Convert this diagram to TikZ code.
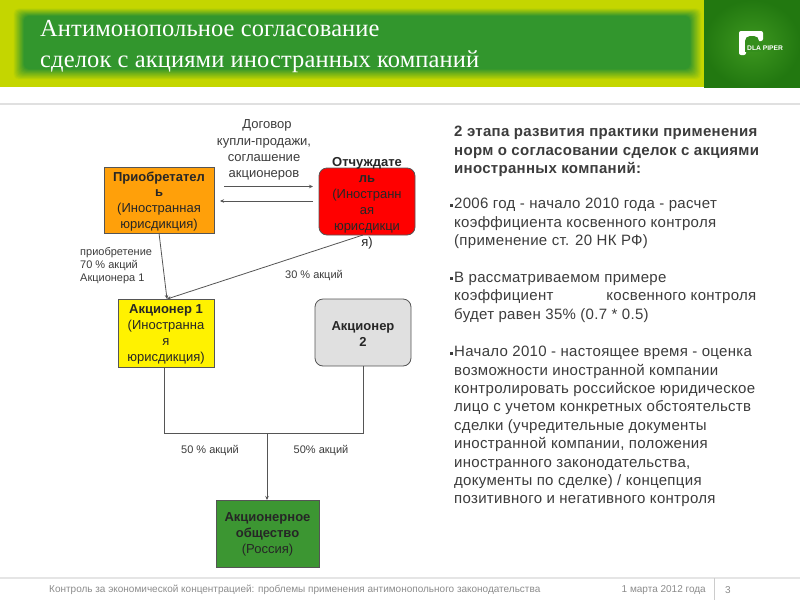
\documentclass[tikz,border=0pt]{standalone}
\usepackage{fontspec}
\setmainfont{Liberation Sans}
\newfontfamily\ttl[LetterSpace=0.5]{Liberation Serif}
\newfontfamily\bodyf[LetterSpace=2]{Liberation Sans}
\usetikzlibrary{arrows.meta,shadings}
\definecolor{hy}{RGB}{196,214,0}
\definecolor{hg}{RGB}{50,150,45}
\definecolor{linec}{RGB}{85,85,85}
\definecolor{txt}{RGB}{60,60,60}
\definecolor{pin}{RGB}{62,152,32}
\definecolor{pout}{RGB}{34,120,16}
\definecolor{pmid}{RGB}{52,142,28}
\definecolor{orangebox}{RGB}{255,160,10}
\definecolor{greenbox}{RGB}{60,150,50}
\newcommand{\fs}[1]{\fontsize{#1}{#1}\selectfont}
\tikzset{
  boxn/.style={draw=linec,line width=0.8pt,inner sep=0pt,text width=0pt},
  lbl/.style={align=center,inner sep=0pt,text=txt},
  boxt/.style={align=center,inner sep=0pt,text=black!85},
  small/.style={align=left,inner sep=0pt,text=txt},
  conn/.style={draw=linec,line width=0.8pt},
  arr/.style={conn,-{Stealth[length=4pt,width=3.5pt]}},
  para/.style={anchor=north west,inner sep=0pt,align=left,text=txt,font=\bodyf\fs{15}},
}
\begin{document}
\begin{tikzpicture}[x=1pt,y=-1pt]
\useasboundingbox (0,0) rectangle (800,600);
\fill[white] (0,0) rectangle (800,600);
% header
\fill[hy] (0,0) rectangle (704,87);
\foreach \i in {0,...,20}{
  \pgfmathsetmacro\m{\i*5}
  \fill[hg!\m!hy,rounded corners=5pt] ({13+\i*0.55},{8+\i*0.4}) rectangle ({702-\i*0.6},{80-\i*0.55});
}
\shade[inner color=pin,outer color=pout] (704,0) rectangle (800,87);
\fill[black!12] (0,103) rectangle (800,104.5);
\node[anchor=base west,inner sep=0pt,text=white] (t1) at (40,36) {\ttl\fs{24.5}Антимонопольное согласование};
\node[anchor=base west,inner sep=0pt,text=white] (t2) at (40,67.5) {\ttl\fs{24.5}сделок с акциями иностранных компаний};
% logo
\fill[white,rounded corners=2pt] (739,31) rectangle (763,41);
\fill[white] (739,33) rectangle (745,53);
\fill[white,rounded corners=2pt] (739,45) rectangle (746,55);
\fill[pmid,rounded corners=5pt] (745,36) rectangle (759,50);
\fill[pmid] (745,42) rectangle (766,52);
\node[anchor=west,inner sep=0pt,text=white] (logo) at (747,48) {\bfseries\fs{6.7}DLA PIPER};
% boxes
\node[boxn,fill=orangebox,minimum width=110pt,minimum height=66pt] (acq) at (159,200) {};
\node[boxn,fill=red,rounded corners=8pt,minimum width=96pt,minimum height=67pt] (sel) at (367,201.5) {};
\node[boxn,fill=yellow,minimum width=96pt,minimum height=68pt] (sh1) at (166,333) {};
\node[boxn,fill=black!12,rounded corners=8pt,minimum width=96pt,minimum height=67pt] (sh2) at (363,332.5) {};
\node[boxn,fill=greenbox,minimum width=103pt,minimum height=67pt] (jsc) at (267.5,533.5) {};
% box texts
\node[boxt,font=\fs{13},anchor=north] (acqt) at (159,171.5) {\textbf{Приобретател}\\[2.7pt]\textbf{ь}\\[2.7pt](Иностранная\\[2.7pt]юрисдикция)};
\node[boxt,font=\fs{13},anchor=north] (selt) at (367,157.5) {\textbf{Отчуждате}\\[3pt]\textbf{ль}\\[3pt](Иностранн\\[3pt]ая\\[3pt]юрисдикци\\[3pt]я)};
\node[boxt,font=\fs{13},anchor=north] (sh1t) at (166,304) {\textbf{Акционер 1}\\[3pt](Иностранна\\[3pt]я\\[3pt]юрисдикция)};
\node[boxt,font=\fs{13}] (sh2t) at (363,334.5) {\textbf{Акционер}\\[3pt]\textbf{2}};
\node[boxt,font=\fs{13}] (jsct) at (267.5,534) {\textbf{Акционерное}\\[3pt]\textbf{общество}\\[3pt](Россия)};
% connector helpers
\coordinate (a1) at (224,186.5);
\coordinate (a2) at (313,186.5);
\coordinate (b1) at (313,201);
\coordinate (b2) at (220,201);
\coordinate (acqb) at (159,233);
\coordinate (sh1t1) at (167,299);
\coordinate (selb) at (363,235);
\coordinate (sh1b) at (164,367);
\coordinate (sh2b) at (363,366);
\coordinate (jl) at (164,433);
\coordinate (jr) at (363,433);
\coordinate (jm) at (267,433);
\coordinate (jsctop) at (267,500);
\draw[arr] (a1) -- (a2);
\draw[arr] (b1) -- (b2);
\draw[arr] (acqb) -- (sh1t1);
\draw[arr] (selb) -- (sh1t1);
\draw[conn] (sh1b) -- (jl) -- (jr) -- (sh2b);
\draw[arr] (jm) -- (jsctop);
% labels
\node[lbl,font=\fs{13}] (l1) at (267,125) {Договор};
\node[lbl,font=\fs{13},anchor=north] (l2) at (264,138.5) {купли-продажи,\\[2.8pt]соглашение\\[2.8pt]акционеров};
\node[small,font=\fs{11},anchor=north west] (l3) at (80,247.5) {приобретение\\[2pt]70 \% акций\\[2pt]Акционера 1};
\node[small,font=\fs{11}] (l4) at (314,276) {30 \% акций};
\node[small,font=\fs{11}] (l5) at (210,451) {50 \% акций};
\node[small,font=\fs{11}] (l6) at (321,451) {50\% акций};
% right text
\node[para] (r1) at (454,126) {\textbf{2 этапа развития практики применения}\\[3.4pt]\textbf{норм о согласовании сделок с акциями}\\[3.4pt]\textbf{иностранных компаний:}};
\node[para] (r2) at (454,198) {2006 год - начало 2010 года - расчет\\[3.4pt]коэффициента косвенного контроля\\[3.4pt](применение ст. 20 НК РФ)};
\node[para] (r3) at (454,272) {В рассматриваемом примере\\[3.4pt]коэффициент\hspace{53pt}косвенного контроля\\[3.4pt]будет равен 35\% (0.7 * 0.5)};
\node[para] (r4) at (454,346) {Начало 2010 - настоящее время - оценка\\[3.4pt]возможности иностранной компании\\[3.4pt]контролировать российское юридическое\\[3.4pt]лицо с учетом конкретных обстоятельств\\[3.4pt]сделки (учредительные документы\\[3.4pt]иностранной компании, положения\\[3.4pt]иностранного законодательства,\\[3.4pt]документы по сделке) / концепция\\[3.4pt]позитивного и негативного контроля};
\foreach \y in {205.5,278.5,353}{
  \fill[txt] (449.5,\y-1.5) rectangle (452.5,\y+1.5);
}
% footer
\fill[black!10] (0,577) rectangle (800,578.5);
\draw[black!20,line width=0.6pt] (714,578) -- (714,600);
\node[anchor=west,inner sep=0pt,text=black!45,font=\fs{10}] (f1) at (49,590) {Контроль за экономической концентрацией: проблемы применения антимонопольного законодательства};
\node[anchor=east,inner sep=0pt,text=black!45,font=\fs{10}] (f2) at (706,590) {1 марта 2012 года};
\node[anchor=west,inner sep=0pt,text=black!45,font=\fs{10}] (f3) at (725,590) {3};
\end{tikzpicture}
\end{document}
